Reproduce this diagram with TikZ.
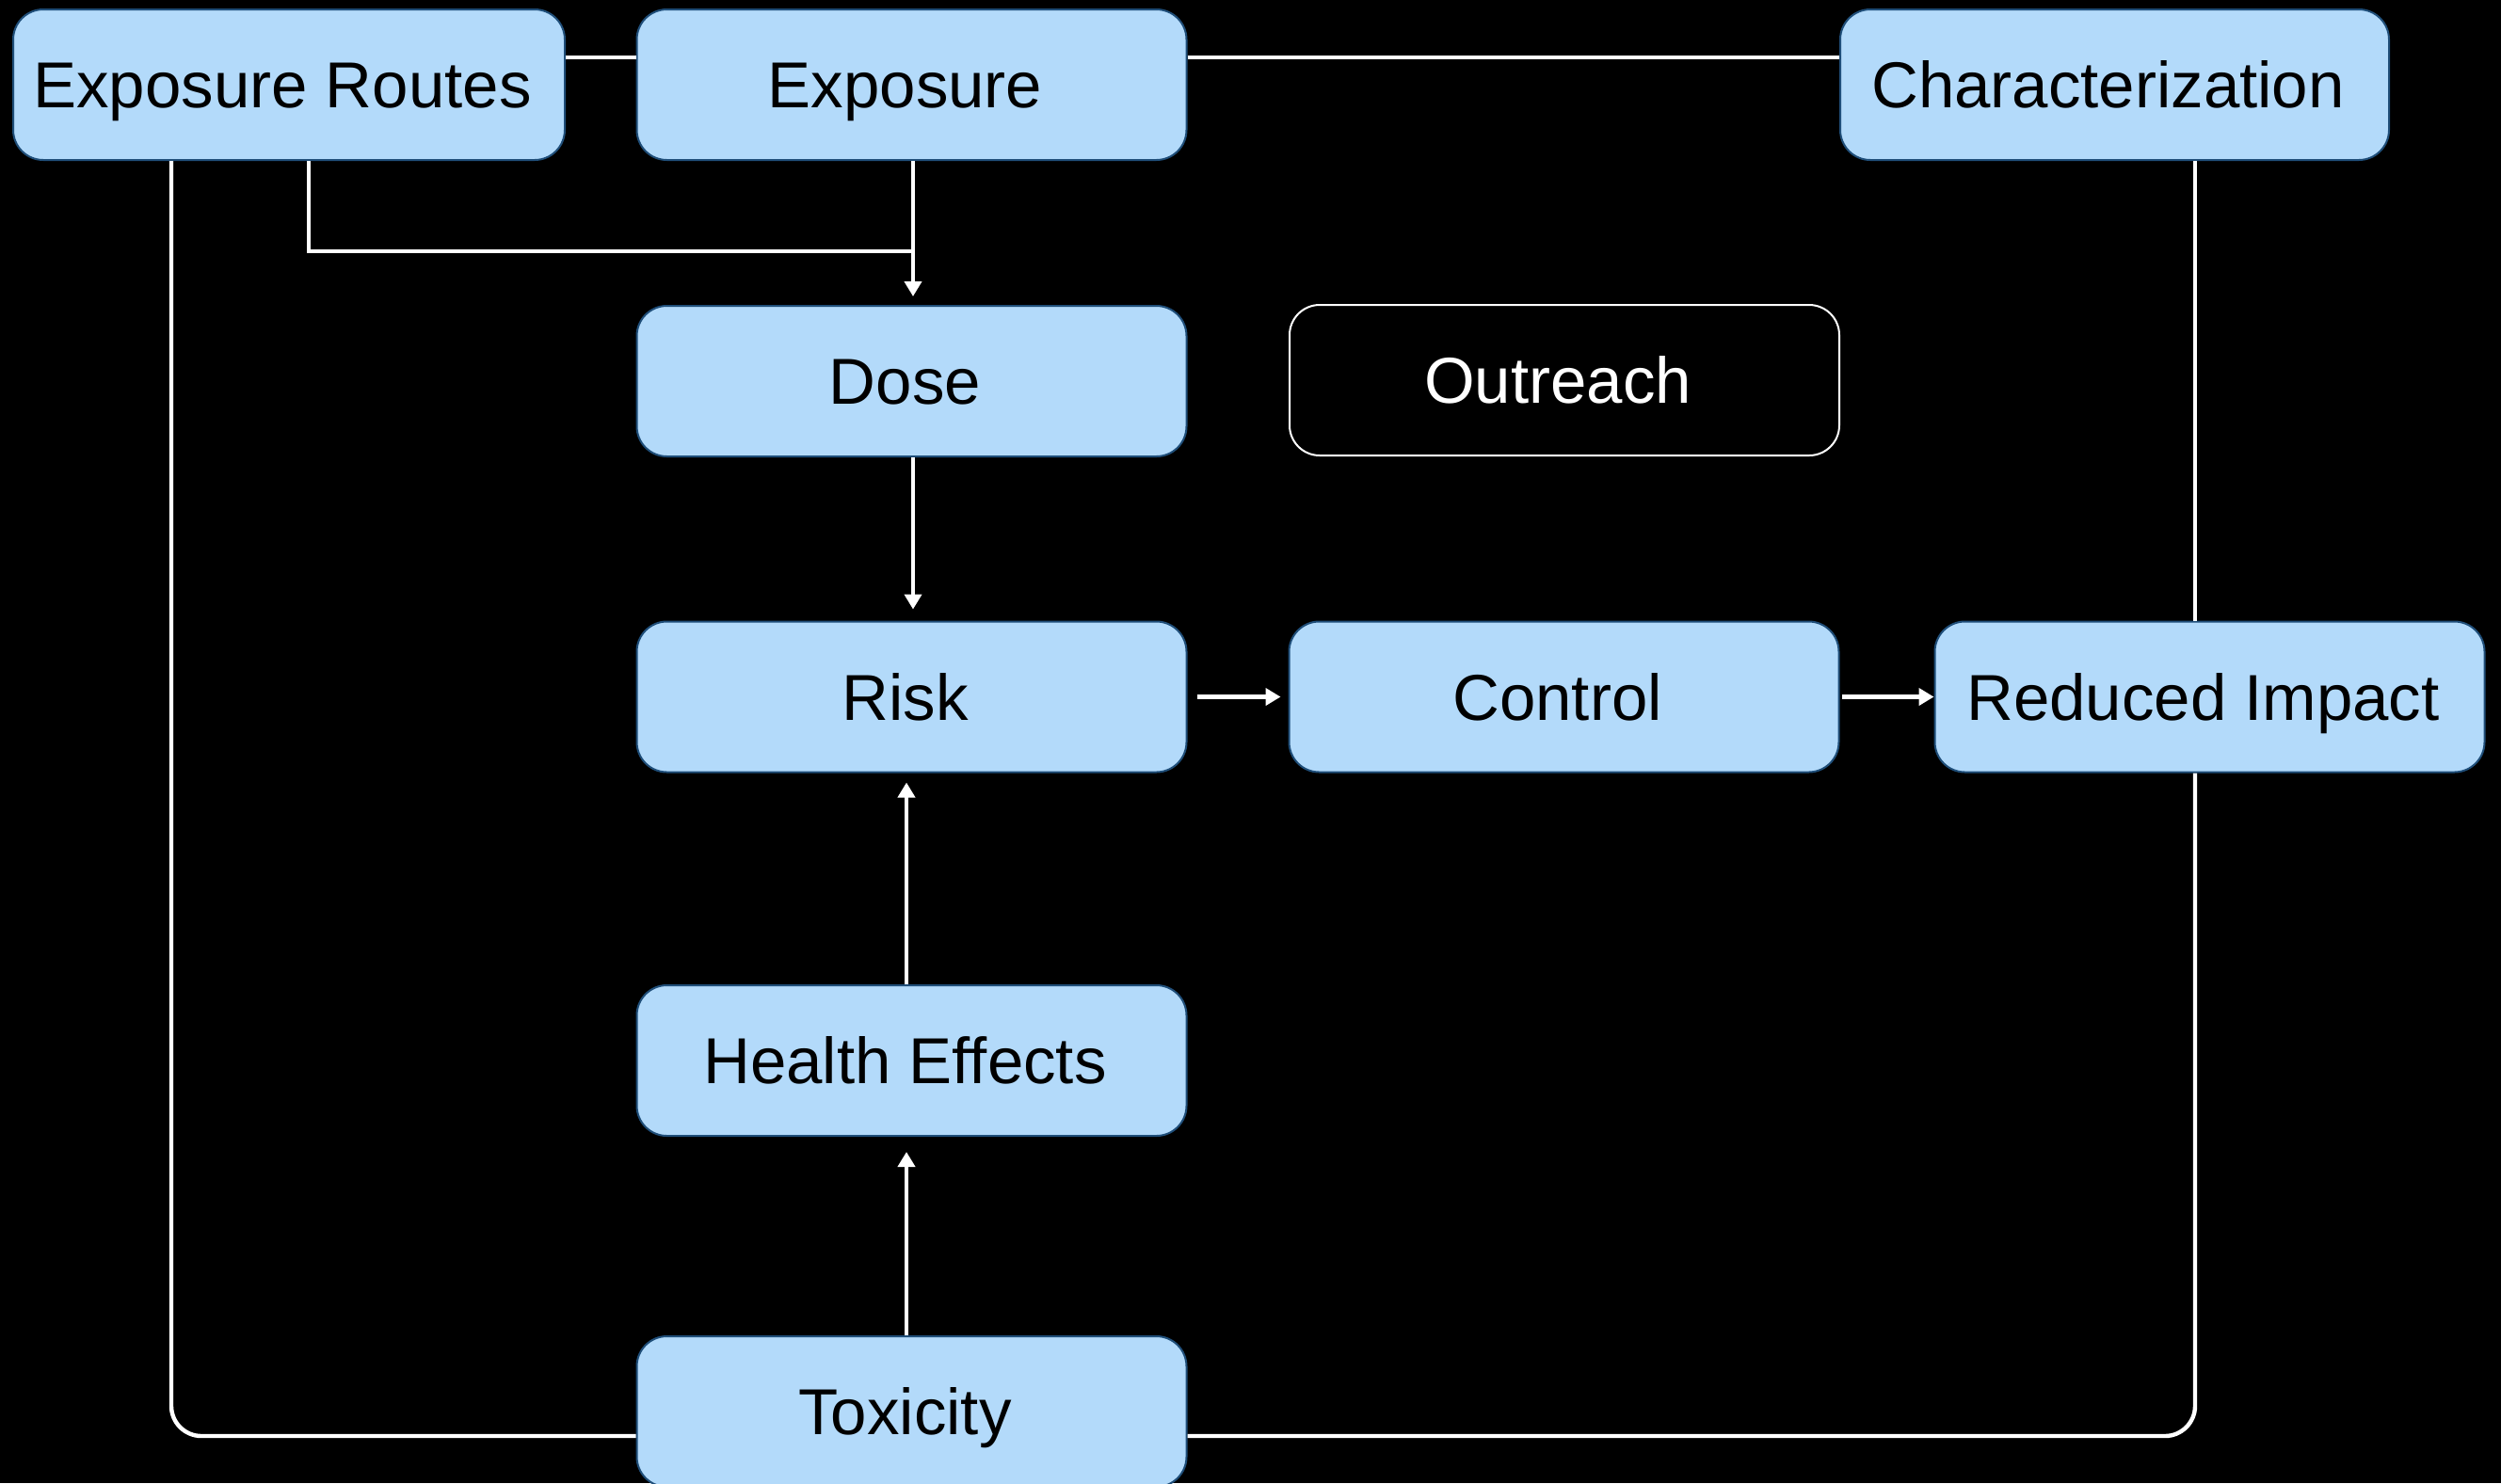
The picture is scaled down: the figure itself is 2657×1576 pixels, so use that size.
\documentclass[tikz,border=0pt]{standalone}
\usepackage{fontspec}
\setmainfont{Liberation Sans}
\usetikzlibrary{arrows.meta}
\definecolor{boxfill}{HTML}{B3DAFA}
\definecolor{boxedge}{HTML}{1F4E79}
\begin{document}
\begin{tikzpicture}[x=0.5pt,y=-0.5pt,
  box/.style={draw=boxedge,line width=1pt,fill=boxfill,rounded corners=16pt,
    minimum width=292pt,minimum height=80pt,inner sep=0pt,
    text height=24.7pt,text depth=0pt,
    execute at end node={\hspace*{7pt}},
    font=\fontsize{34.5}{40}\selectfont,text=black},
  darkbox/.style={box,draw=white,fill=black,text=white},
  wire/.style={draw=white,line width=2.2pt},
  arr/.style={wire,-{Triangle[width=9pt,length=8pt]}}]
\fill[black] (0,0) rectangle (2657,1576);
\useasboundingbox (0,0) rectangle (2657,1576);
% helper coordinates
\coordinate (tl) at (0,61);
\coordinate (bl) at (0,1526);
\coordinate (jy) at (0,267);
\coordinate (lx) at (182,0);
\coordinate (ix) at (328,0);
\coordinate (ax1) at (970,0);
\coordinate (ax2) at (963,0);
\coordinate (rx) at (2332,0);
% boxes
\node[box,minimum width=293pt] (er) at (307,90) {Exposure Routes};
\node[box] (ex) at (968.5,90) {Exposure};
\node[box,minimum width=291.5pt] (ch) at (2246.5,90) {Characterization};
\node[box] (dose) at (968.5,405) {Dose};
\node[darkbox] (out) at (1662,404) {Outreach};
\node[box] (risk) at (968.5,740.5) {Risk};
\node[box] (ctrl) at (1661.5,740.5) {Control};
\node[box] (red) at (2347.5,740.5) {Reduced Impact};
\node[box] (he) at (968.5,1127) {Health Effects};
\node[box] (tox) at (968.5,1500) {Toxicity};
% lines
\draw[wire] (er.east |- tl) -- (ex.west |- tl);
\draw[wire] (ex.east |- tl) -- (ch.west |- tl);
\draw[wire,rounded corners=16pt] (er.south -| lx) -- (lx |- bl) -- (tox.west |- bl);
\draw[wire,rounded corners=16pt] (tox.east |- bl) -- (rx |- bl) -- (red.south -| rx);
\draw[wire] (ch.south -| rx) -- (red.north -| rx);
\draw[wire] (er.south -| ix) -- (ix |- jy) -- (ax1 |- jy);
\draw[arr,shorten >=4.5pt] (ex.south -| ax1) -- (dose.north -| ax1);
\draw[arr,shorten >=6pt] (dose.south -| ax1) -- (risk.north -| ax1);
\draw[arr,shorten >=5pt] (he.north -| ax2) -- (risk.south -| ax2);
\draw[arr,shorten >=8pt] (tox.north -| ax2) -- (he.south -| ax2);
\draw[arr,shorten <=5pt,shorten >=4pt] (risk.east) -- (ctrl.west);
\draw[arr,shorten <=1pt] (ctrl.east) -- (red.west);
\end{tikzpicture}
\end{document}
